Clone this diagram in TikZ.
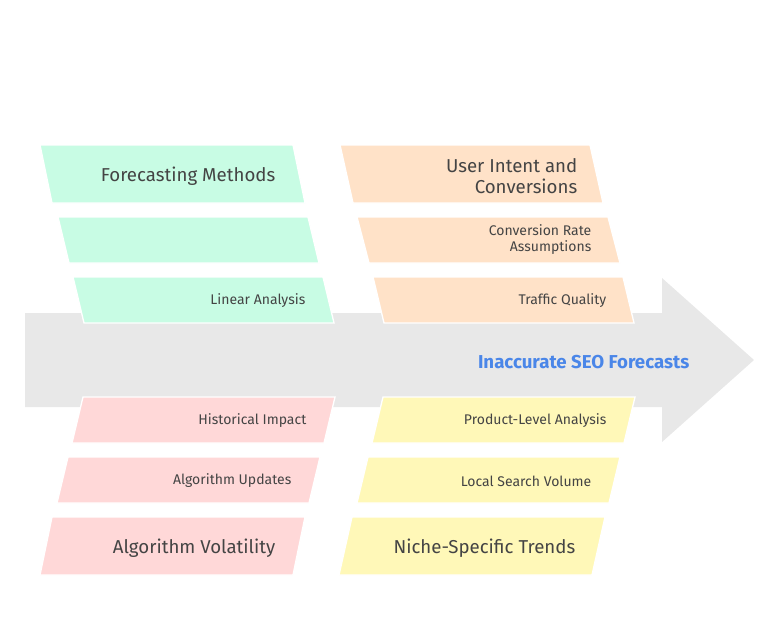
\documentclass[tikz,border=0pt]{standalone}
\usepackage{fontspec}
\setmainfont{Fira Sans}
\usepackage{tikz}
\definecolor{boneGreen}{HTML}{C8FCE4}
\definecolor{boneOrange}{HTML}{FFE2C8}
\definecolor{boneRed}{HTML}{FFD8D8}
\definecolor{boneYellow}{HTML}{FFF8B8}
\definecolor{spine}{HTML}{E8E8E8}
\definecolor{txt}{HTML}{444444}
\definecolor{headBlue}{HTML}{4A86E8}
\tikzset{
  bigtxt/.style={text=txt, font=\fontsize{14}{16}\selectfont, align=right, anchor=east},
  smalltxt/.style={text=txt, font=\fontsize{10.5}{12}\selectfont, align=right, anchor=east},
}
% \bonebox{top-left x}{top-right x}{top y}{bottom y}{shift}{colour}
\newcommand{\bonebox}[6]{%
  \fill[#6, draw=white, line width=1pt] (#1,#3) -- (#2,#3) -- ({#2+#5},#4) -- ({#1+#5},#4) -- cycle;}

\begin{document}
\begin{tikzpicture}[x=0.75pt, y=-0.75pt]
  \useasboundingbox (0,0) rectangle (780,624);
  % spine
  \fill[spine] (25,313) -- (662,313) -- (662,278) -- (754,360) -- (662,442) -- (662,407) -- (25,407) -- cycle;
  \node[text=headBlue, font=\bfseries\fontsize{14}{16}\selectfont, anchor=east] (effect) at (694,362) {Inaccurate SEO Forecasts};

  % upper left
  \bonebox{40}{293}{145}{203}{12}{boneGreen}
  \bonebox{58}{308}{217}{263}{11}{boneGreen}
  \bonebox{73}{323}{277}{323}{11}{boneGreen}
  \node[bigtxt] (methods) at (280,176) {Forecasting Methods};
  \node[smalltxt] (linear) at (310,301) {Linear Analysis};

  % upper right
  \bonebox{340}{590}{145}{203}{13}{boneOrange}
  \bonebox{357}{608}{217}{263}{12}{boneOrange}
  \bonebox{373}{623}{277}{323}{11}{boneOrange}
  \node[bigtxt] (intent) at (582,176) {User Intent and\\Conversions};
  \node[smalltxt] (convrate) at (596,240) {Conversion Rate\\Assumptions};
  \node[smalltxt] (quality) at (611,301) {Traffic Quality};

  % lower left
  \bonebox{83}{335}{397}{443}{-11}{boneRed}
  \bonebox{68}{320}{457}{503}{-11}{boneRed}
  \bonebox{52}{305}{517}{575}{-12}{boneRed}
  \node[smalltxt] (historical) at (311,421) {Historical Impact};
  \node[smalltxt] (updates) at (296,481) {Algorithm Updates};
  \node[bigtxt] (volatility) at (280,548) {Algorithm Volatility};

  % lower right
  \bonebox{383}{635}{397}{443}{-11}{boneYellow}
  \bonebox{368}{620}{457}{503}{-11}{boneYellow}
  \bonebox{352}{605}{517}{575}{-13}{boneYellow}
  \node[smalltxt] (product) at (611,421) {Product-Level Analysis};
  \node[smalltxt] (local) at (596,481) {Local Search Volume};
  \node[bigtxt] (niche) at (580,548) {Niche-Specific Trends};
\end{tikzpicture}
\end{document}
